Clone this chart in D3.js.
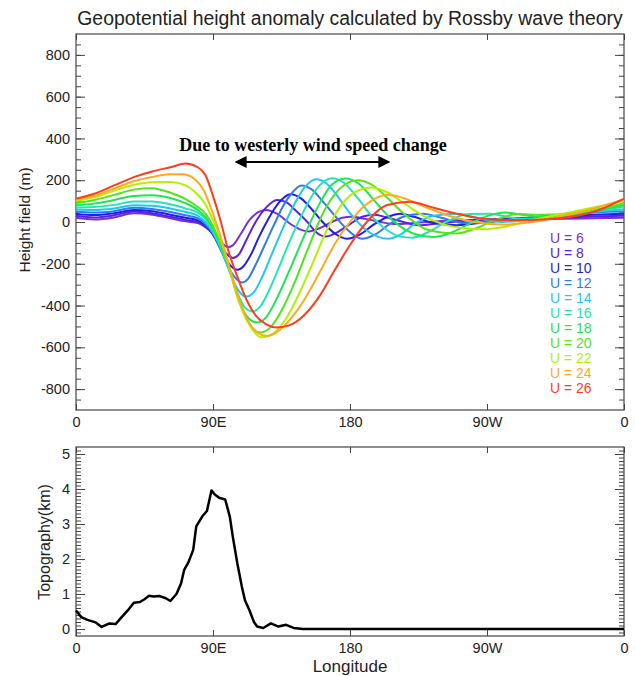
<!DOCTYPE html>
<html>
<head>
<meta charset="utf-8">
<script src="https://cdn.jsdelivr.net/npm/d3@7"></script>
<style>
  body { margin: 0; background: #fff; }
  svg { display: block; font-family: "Liberation Sans", Arial, Helvetica, sans-serif; }
  .axis text { font-size: 14.5px; fill: #222; }
  .axis line, .axis path { stroke: #444; }
</style>
</head>
<body>
<div id="chart"></div>
<script>
const w = 635;
const h = 676;

// longitude ticks shared by both panels
const lonTicks = [0, 90, 180, 270, 360];
const lonLabels = ["0", "90E", "180", "90W", "0"];

// westerly wind speeds and their colours
const speeds = [6, 8, 10, 12, 14, 16, 18, 20, 22, 24, 26];
const colors = ["#7b2fd6", "#5a22e0", "#1e1ee6", "#2f7cf0", "#1ec8f5", "#22e6b4",
                "#1ee650", "#50e61a", "#b4f000", "#ffaa1e", "#ff3c1e"];

// height anomaly (m), [longitude, height]
const u6 = [[0,20],[12,12],[25,22],[38,42],[50,35],[62,18],[72,3],[80,-5],[85,-25],[90,-55],[95,-95],[100,-120],[103,-112],[108,-60],[114,10],[120,48],[125,58],[132,40],[140,-5],[147,-35],[153,-45],[160,-30],[168,0],[175,20],[181,25],[190,15],[200,0],[210,-10],[222,-5],[240,5],[260,10],[280,10],[300,12],[320,15],[340,18],[360,20]];
const u8 = [[0,30],[12,22],[25,32],[38,50],[50,42],[62,25],[72,10],[80,0],[85,-20],[90,-60],[95,-120],[100,-160],[103,-172],[107,-155],[112,-85],[118,0],[125,70],[132,105],[138,95],[145,50],[152,0],[158,-50],[164,-70],[170,-55],[180,-10],[188,25],[196,35],[205,20],[215,0],[225,-15],[240,-5],[260,8],[280,15],[300,20],[320,22],[340,26],[360,30]];
const u10 = [[0,40],[12,33],[25,42],[38,58],[50,52],[62,35],[72,20],[80,8],[85,-15],[90,-60],[95,-130],[100,-195],[106,-229],[110,-212],[115,-155],[120,-75],[126,10],[133,90],[141,133],[148,112],[155,60],[162,0],[170,-55],[178,-80],[186,-62],[195,-15],[205,25],[213,40],[222,25],[235,-5],[250,-15],[270,0],[290,15],[310,25],[330,32],[360,40]];
const u12 = [[0,50],[12,45],[25,52],[38,68],[50,62],[62,48],[72,32],[80,18],[85,-10],[90,-55],[95,-130],[100,-215],[105,-270],[109,-290],[113,-272],[118,-205],[124,-110],[130,-15],[136,75],[142,140],[148,175],[155,155],[162,100],[170,30],[178,-35],[188,-80],[196,-62],[205,-15],[215,25],[228,40],[240,20],[255,-5],[270,0],[290,15],[310,30],[330,42],[360,50]];
const u14 = [[0,60],[12,58],[25,65],[38,80],[50,78],[62,65],[72,48],[80,30],[85,0],[90,-50],[95,-125],[100,-220],[106,-320],[112,-357],[117,-335],[122,-268],[128,-165],[135,-45],[142,65],[150,165],[158,205],[165,182],[172,122],[180,42],[190,-35],[198,-70],[205,-80],[213,-60],[222,-12],[235,30],[250,40],[263,20],[280,0],[300,15],[320,35],[340,50],[360,60]];
const u16 = [[0,70],[12,72],[25,82],[38,98],[50,98],[62,85],[72,65],[80,45],[85,15],[90,-40],[95,-115],[100,-215],[106,-340],[111,-410],[116,-428],[121,-405],[127,-325],[134,-205],[142,-65],[150,58],[158,158],[168,210],[176,188],[185,115],[195,22],[205,-42],[213,-70],[221,-75],[231,-50],[243,0],[258,38],[272,40],[285,22],[300,12],[320,30],[340,55],[360,70]];
const u18 = [[0,80],[12,88],[25,105],[38,125],[50,128],[62,115],[72,90],[80,58],[85,25],[90,-30],[95,-105],[100,-210],[106,-350],[112,-450],[119,-481],[125,-455],[132,-365],[140,-235],[150,-65],[160,88],[168,178],[177,208],[186,182],[196,102],[206,22],[216,-35],[226,-65],[235,-72],[245,-55],[258,-10],[270,28],[282,45],[295,32],[315,22],[335,45],[360,80]];
const u20 = [[0,90],[12,105],[25,130],[38,155],[50,162],[62,140],[72,110],[80,72],[85,40],[90,-20],[95,-100],[100,-205],[106,-350],[112,-465],[121,-529],[128,-502],[135,-425],[143,-300],[152,-135],[162,38],[172,150],[185,200],[195,176],[205,112],[215,42],[228,-28],[240,-50],[250,-55],[262,-32],[275,8],[290,38],[305,35],[325,40],[345,65],[360,90]];
const u22 = [[0,100],[12,118],[25,150],[38,178],[50,190],[62,192],[72,175],[80,130],[85,85],[90,10],[95,-80],[100,-200],[106,-360],[113,-480],[122,-552],[130,-532],[138,-462],[146,-352],[155,-205],[165,-35],[175,88],[185,150],[194,165],[205,140],[215,92],[228,30],[240,-8],[255,-30],[268,-35],[280,-25],[300,10],[320,40],[340,70],[360,100]];
const u24 = [[0,108],[12,125],[25,160],[38,195],[50,215],[62,228],[70,228],[78,205],[84,150],[90,40],[95,-70],[100,-195],[106,-345],[112,-458],[118,-522],[125,-545],[132,-527],[140,-472],[150,-372],[160,-242],[170,-105],[180,0],[190,80],[198,118],[205,130],[215,115],[228,76],[240,42],[260,2],[280,-12],[300,0],[320,30],[340,65],[360,108]];
const u26 = [[0,112],[12,135],[25,175],[38,215],[50,242],[62,262],[72,280],[80,262],[85,225],[90,125],[95,5],[100,-135],[106,-262],[112,-372],[118,-447],[125,-490],[132,-505],[140,-495],[150,-445],[160,-355],[170,-230],[180,-110],[191,0],[204,80],[219,97],[235,68],[250,40],[265,18],[280,10],[300,10],[320,20],[340,48],[360,112]];
const series = [u6, u8, u10, u12, u14, u16, u18, u20, u22, u24, u26];

// topography (km) along the same latitude
const topoLon = [0,3.5,7.5,12.8,16.8,22,26,30,34,38,42,45,48,51,55,59,62,66,69,71,74,77,79,83,86,89,91,94,98,101,103,106,109,111,114,117,119,123,128,133,138,143,149,360];
const topoKm = [0.53,0.34,0.26,0.19,0.06,0.16,0.14,0.34,0.53,0.75,0.77,0.85,0.95,0.93,0.94,0.88,0.80,1.0,1.3,1.68,1.92,2.26,2.93,3.22,3.37,3.96,3.85,3.75,3.70,3.22,2.64,1.87,1.2,0.82,0.53,0.19,0.07,0.03,0.16,0.07,0.12,0.03,0,0];

const x = d3.scaleLinear().domain([0, 360]).range([76, 624]);
const yH = d3.scaleLinear().domain([-900, 900]).range([410, 34]);
const yT = d3.scaleLinear().domain([-0.2, 5.2]).range([636, 447]);

const svg = d3.select("#chart").append("svg")
  .attr("width", w)
  .attr("height", h);
svg.append("rect").attr("width", w).attr("height", h).attr("fill", "#fff");

// draws the frame and inward ticks for one panel
let drawFrame = (y, top, bottom, major, minor) => {
  let left = x.range()[0], right = x.range()[1];
  let g = svg.append("g").attr("class", "axis");
  g.append("g").attr("transform", `translate(0,${bottom})`)
    .call(d3.axisBottom(x).tickValues(lonTicks).tickFormat((d, i) => lonLabels[i]).tickSize(-6).tickPadding(7).tickSizeOuter(0));
  g.append("g").attr("transform", `translate(0,${top})`)
    .call(d3.axisTop(x).tickValues(lonTicks).tickFormat("").tickSize(-6).tickSizeOuter(0));
  g.append("g").attr("transform", `translate(${left},0)`)
    .call(d3.axisLeft(y).tickValues(major).tickFormat(d => String(Math.round(d))).tickSize(-9).tickPadding(6).tickSizeOuter(0));
  g.append("g").attr("transform", `translate(${left},0)`)
    .call(d3.axisLeft(y).tickValues(minor).tickFormat("").tickSize(-5).tickSizeOuter(0));
  g.append("g").attr("transform", `translate(${right},0)`)
    .call(d3.axisRight(y).tickValues(major).tickFormat("").tickSize(-9).tickSizeOuter(0));
  g.append("g").attr("transform", `translate(${right},0)`)
    .call(d3.axisRight(y).tickValues(minor).tickFormat("").tickSize(-5).tickSizeOuter(0));
  g.selectAll(".domain").remove();
  g.append("rect")
    .attr("x", left).attr("y", top)
    .attr("width", right - left).attr("height", bottom - top)
    .attr("fill", "none").attr("stroke", "#444").attr("stroke-width", 1.2);
};

// ---- upper panel
drawFrame(yH, 34, 410, d3.range(-800, 801, 200), d3.range(-850, 851, 50));

let line = d3.line()
  .x(d => x(d[0]))
  .y(d => yH(d[1]))
  .curve(d3.curveMonotoneX);

svg.append("g")
  .selectAll("path")
  .data(series)
  .enter()
  .append("path")
  .attr("d", line)
  .attr("fill", "none")
  .attr("stroke", (d, i) => colors[i])
  .attr("stroke-width", 2);

svg.append("text")
  .attr("x", 350).attr("y", 25)
  .attr("text-anchor", "middle")
  .attr("font-size", 19.4)
  .attr("fill", "#222")
  .text("Geopotential height anomaly calculated by Rossby wave theory");

svg.append("text")
  .attr("transform", "translate(30,220) rotate(-90)")
  .attr("text-anchor", "middle")
  .attr("font-size", 15.5)
  .attr("fill", "#222")
  .text("Height field (m)");

// annotation with double arrow
svg.append("defs").append("marker")
  .attr("id", "head")
  .attr("viewBox", "0 0 10 10")
  .attr("refX", 8).attr("refY", 5)
  .attr("markerWidth", 6).attr("markerHeight", 6)
  .attr("orient", "auto-start-reverse")
  .append("path").attr("d", "M0,0L10,5L0,10Z").attr("fill", "#000");

svg.append("text")
  .attr("x", 313).attr("y", 151)
  .attr("text-anchor", "middle")
  .attr("font-family", "'Liberation Serif', 'Times New Roman', serif")
  .attr("font-weight", "bold")
  .attr("font-size", 18)
  .attr("fill", "#000")
  .text("Due to westerly wind speed change");

svg.append("line")
  .attr("x1", 237).attr("x2", 388)
  .attr("y1", 162).attr("y2", 162)
  .attr("stroke", "#000").attr("stroke-width", 2)
  .attr("marker-start", "url(#head)")
  .attr("marker-end", "url(#head)");

// legend
svg.append("g")
  .selectAll("text")
  .data(speeds)
  .enter()
  .append("text")
  .attr("x", 550)
  .attr("y", (d, i) => 243 + i * 15)
  .attr("font-size", 14)
  .attr("fill", (d, i) => colors[i])
  .text(d => "U = " + d);

// ---- lower panel
drawFrame(yT, 447, 636, d3.range(0, 5.01, 1), d3.range(-0.1, 5.15, 0.1));

let topoLine = d3.line()
  .x((d, i) => x(topoLon[i]))
  .y(d => yT(d));

svg.append("path")
  .attr("d", topoLine(topoKm))
  .attr("fill", "none")
  .attr("stroke", "#000")
  .attr("stroke-width", 2.5)
  .attr("stroke-linejoin", "round");

svg.append("text")
  .attr("transform", "translate(50,542) rotate(-90)")
  .attr("text-anchor", "middle")
  .attr("font-size", 16)
  .attr("fill", "#222")
  .text("Topography(km)");

svg.append("text")
  .attr("x", 350).attr("y", 672)
  .attr("text-anchor", "middle")
  .attr("font-size", 17)
  .attr("fill", "#222")
  .text("Longitude");
</script>
</body>
</html>
